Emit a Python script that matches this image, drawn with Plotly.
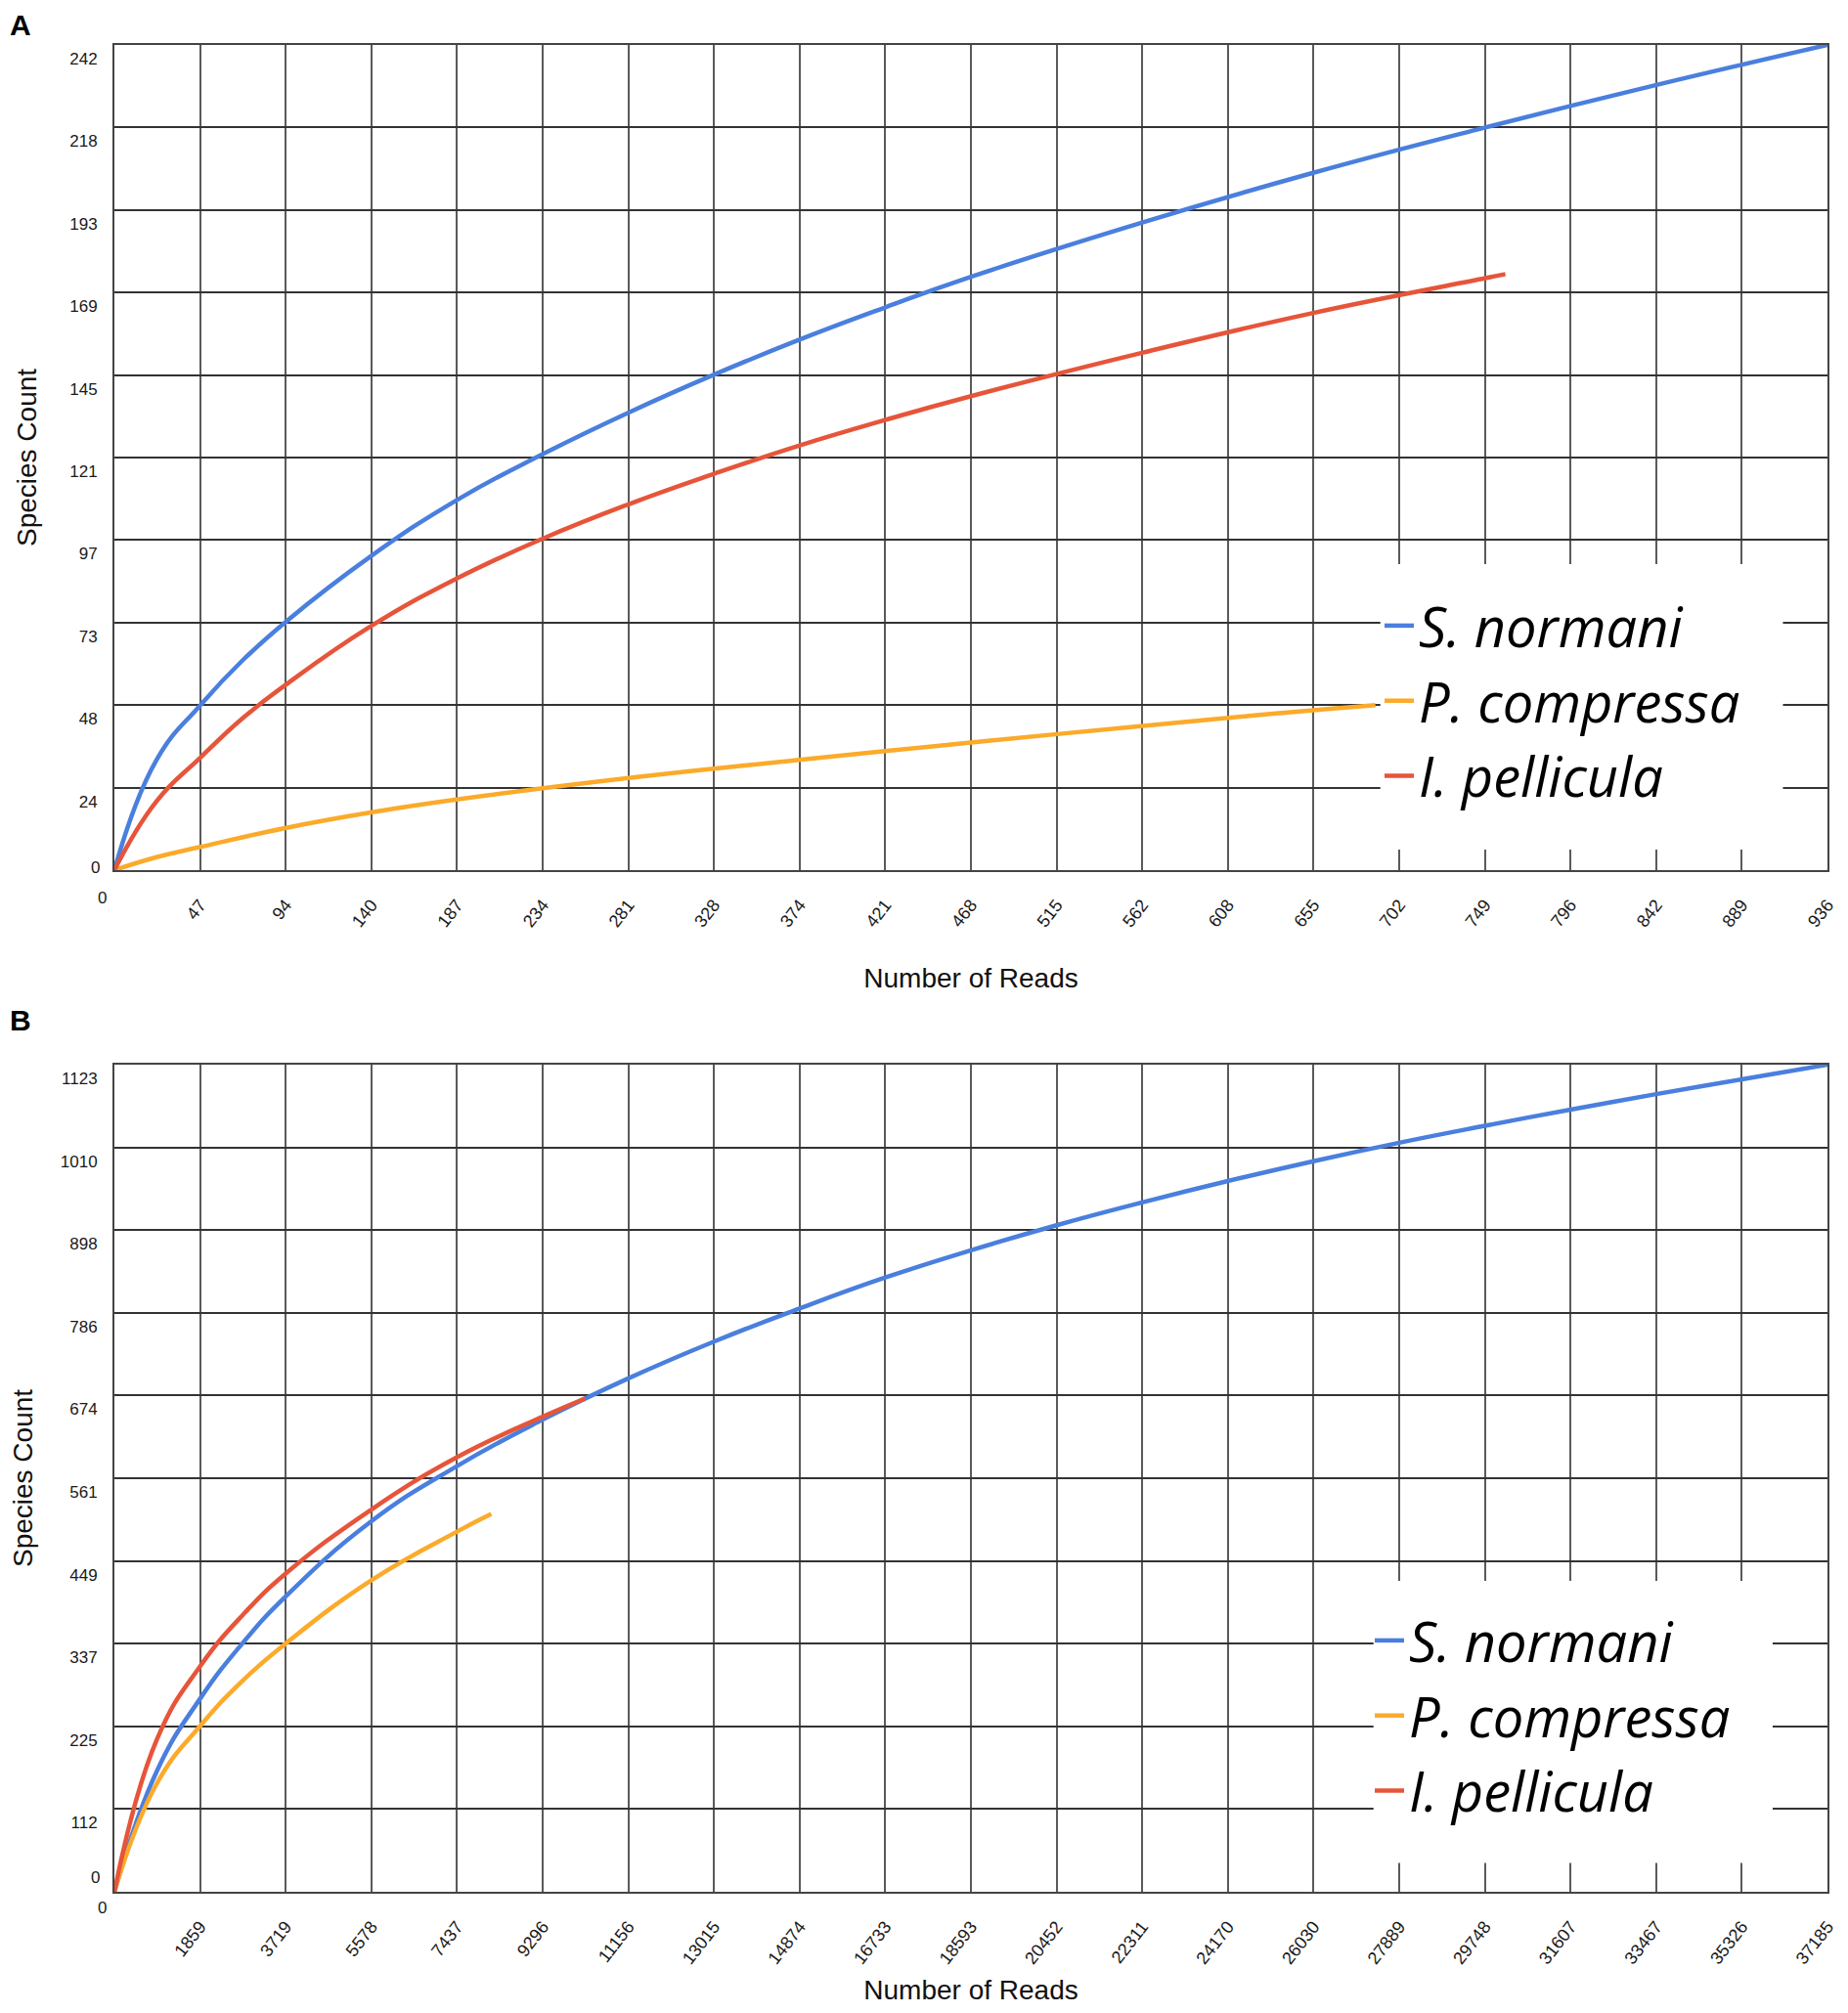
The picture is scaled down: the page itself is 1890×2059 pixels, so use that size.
import plotly.graph_objects as go

# ---- panel A ----
a_xlabels = ["0", "47", "94", "140", "187", "234", "281", "328", "374", "421", "468",
             "515", "562", "608", "655", "702", "749", "796", "842", "889", "936"]
a_ylabels = ["0", "24", "48", "73", "97", "121", "145", "169", "193", "218", "242"]

a_normani_x = [0, 23, 47, 70, 94, 140, 187, 234, 281, 328, 374, 421, 468, 562, 655,
               749, 842, 936]
a_normani_y = [0, 32.3, 48.4, 61.5, 73, 92, 108.5, 122, 134.2, 145.4, 155.5, 165,
               174, 190, 204.5, 217.8, 230.2, 242]

a_compressa_x = [0, 23, 47, 94, 140, 187, 281, 374, 468, 562, 655, 689]
a_compressa_y = [0, 3.8, 6.8, 12.4, 16.9, 20.7, 27.0, 32.3, 37.4, 42.3, 46.9, 48.4]

a_pellicula_x = [0, 23, 47, 70, 94, 140, 187, 234, 281, 328, 374, 421, 468, 562, 655,
                 749, 760]
a_pellicula_y = [0, 20.2, 33, 44.5, 54.5, 71.5, 85.5, 97.2, 107.3, 116.3, 124.5, 132,
                 139, 151.8, 163.4, 173.6, 174.8]

# ---- panel B ----
b_xlabels = ["0", "1859", "3719", "5578", "7437", "9296", "11156", "13015", "14874", "16733",
             "18593", "20452", "22311", "24170", "26030", "27889", "29748", "31607", "33467",
             "35326", "37185"]
b_ylabels = ["0", "112", "225", "337", "449", "561", "674", "786", "898", "1010", "1123"]

b_normani_x = [0, 930, 1859, 2789, 3719, 5578, 7437, 9296, 11156, 13015, 14874, 16733,
               18593, 20452, 22311, 24170, 26030, 27889, 29748, 31607, 33467, 35326, 37185]
b_normani_y = [0, 165, 262, 338, 401, 503, 578, 641, 697, 747, 792, 834, 871, 905, 936,
               965, 992, 1017, 1040, 1062, 1083, 1103, 1123]

b_compressa_x = [0, 930, 1859, 2789, 3719, 5578, 7437, 8181]
b_compressa_y = [0, 148, 225, 287, 337, 423, 489, 513]

b_pellicula_x = [0, 930, 1859, 2789, 3719, 5578, 7437, 9296, 10226]
b_pellicula_y = [0, 208, 306, 376, 432, 519, 590, 645, 670]

names = ["S. normani", "P. compressa", "I. pellicula"]
colors = ["#4A7FDE", "#FBAA2A", "#E6553A"]

# page body keeps its 8px margin, so the figure is drawn 8px in from the corner
OFF = 8
W, H = 1890 - 2 * OFF, 2059 - 2 * OFF


def px(x):
    return (x - OFF) / W


def py(y):
    return 1 - (y - OFF) / H


fig = go.Figure()

panels = [
    ("x", "y", "legend", "a", [(a_normani_x, a_normani_y), (a_compressa_x, a_compressa_y),
                               (a_pellicula_x, a_pellicula_y)]),
    ("x2", "y2", "legend2", "b", [(b_normani_x, b_normani_y), (b_compressa_x, b_compressa_y),
                                  (b_pellicula_x, b_pellicula_y)]),
]
for xa, ya, leg, tag, series in panels:
    for (xs, ys), name, col in zip(series, names, colors):
        fig.add_trace(go.Scatter(
            x=xs, y=ys, mode="lines", name=name,
            line=dict(color=col, width=4.5, shape="spline", smoothing=1.3),
            xaxis=xa, yaxis=ya, legend=leg, legendgroup=tag + name,
            hoverinfo="skip"))

tick_family = "Liberation Sans, Arial"


def x_axis(labels, domain_anchor, standoff):
    top = float(labels[-1])
    return dict(
        domain=[px(117), px(1869)], anchor=domain_anchor,
        range=[0, top], autorange=False,
        tickvals=[i * top / 20 for i in range(21)],
        ticktext=[""] + labels[1:], tickangle=-52,
        tickfont=dict(family=tick_family, size=18, color="#1a1a1a"),
        ticks="", ticklabelstandoff=16,
        showgrid=True, gridcolor="#5a5a5a", gridwidth=1.5, zeroline=False,
        showline=True, mirror=True, linecolor="#444", linewidth=2,
        automargin=False,
        title=dict(text="Number of Reads", standoff=standoff,
                   font=dict(family=tick_family, size=28, color="#111")))


def y_axis(labels, y_top, y_bottom, domain_anchor, standoff):
    top = float(labels[-1])
    return dict(
        domain=[py(y_bottom), py(y_top)], anchor=domain_anchor,
        range=[0, top], autorange=False,
        tickvals=[i * top / 10 for i in range(11)],
        ticktext=[""] + labels[1:], ticklabelshift=14,
        tickfont=dict(family=tick_family, size=17, color="#1a1a1a"),
        ticks="", ticklabelstandoff=12,
        showgrid=True, gridcolor="#333", gridwidth=1.5, zeroline=False,
        showline=True, mirror=True, linecolor="#444", linewidth=2,
        automargin=False,
        title=dict(text="Species Count", standoff=standoff,
                   font=dict(family=tick_family, size=28, color="#111")))


legend_font = dict(family="Open Sans", size=56, style="italic", color="#000")


def white_box(xa, ya, xmax, ymax, fx0, fx1, fy0, fy1):
    # blank patch behind the legend (covers the grid, stays under the curves)
    return dict(type="rect", xref=xa, yref=ya, x0=fx0 * xmax, x1=fx1 * xmax,
                y0=fy0 * ymax, y1=fy1 * ymax, fillcolor="white", line=dict(width=0),
                layer="between")


fig.update_layout(
    width=W, height=H,
    margin=dict(l=0, r=0, t=0, b=0),
    paper_bgcolor="white", plot_bgcolor="white",
    xaxis=x_axis(a_xlabels, "y", 39),
    yaxis=y_axis(a_ylabels, 46, 890, "x", 25),
    xaxis2=x_axis(b_xlabels, "y2", 30),
    yaxis2=y_axis(b_ylabels, 1089, 1935, "x2", 23),
    legend=dict(x=px(1411), y=py(717), xanchor="left", yanchor="middle",
                bgcolor="rgba(0,0,0,0)", borderwidth=0, font=legend_font,
                tracegroupgap=1, itemwidth=30),
    legend2=dict(x=px(1401), y=py(1755), xanchor="left", yanchor="middle",
                 bgcolor="rgba(0,0,0,0)", borderwidth=0, font=legend_font,
                 tracegroupgap=1, itemwidth=30),
    shapes=[
        white_box("x", "y", float(a_xlabels[-1]), float(a_ylabels[-1]),
                  0.739, 0.974, 0.025, 0.371),
        white_box("x2", "y2", float(b_xlabels[-1]), float(b_ylabels[-1]),
                  0.735, 0.968, 0.035, 0.376),
    ],
)

# panel letters and the unrotated zero labels
letters = [("A", 8), ("B", 1026)]
for text, ytop in letters:
    fig.add_annotation(text="<b>%s</b>" % text, x=px(9), y=py(ytop), xref="paper",
                       yref="paper", xanchor="left", yanchor="top", showarrow=False,
                       borderpad=0, font=dict(family=tick_family, size=30, color="#000"))
zero_font = dict(family=tick_family, size=17, color="#1a1a1a")
for axis_bottom in [890, 1935]:
    fig.add_annotation(text="0", x=px(91), y=py(axis_bottom - 3), xref="paper",
                       yref="paper", showarrow=False, font=zero_font)
    fig.add_annotation(text="0", x=px(98), y=py(axis_bottom + 28), xref="paper",
                       yref="paper", showarrow=False, font=zero_font)

fig.write_html("out.html")
